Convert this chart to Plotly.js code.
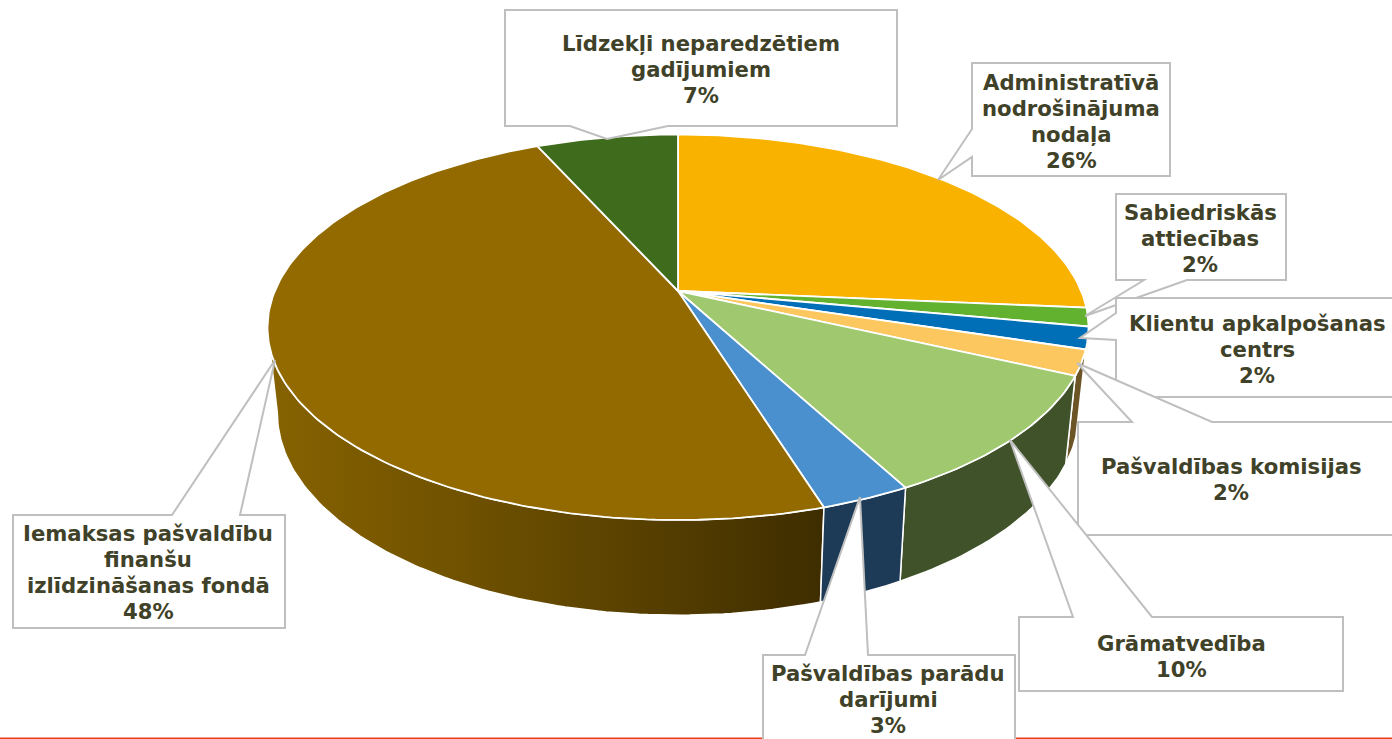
<!DOCTYPE html>
<html>
<head>
<meta charset="utf-8">
<script src="https://cdn.plot.ly/plotly-3.0.1.min.js"></script>
<style>html,body{margin:0;padding:0;background:#fff}#chart{width:1392px;height:739px}</style>
</head>
<body>
<div id="chart"></div>
<script>
// Data, clockwise from 12 o'clock
const categories = [
  ["Administratīvā", "nodrošinājuma", "nodaļa"],
  ["Sabiedriskās", "attiecības"],
  ["Klientu apkalpošanas", "centrs"],
  ["Pašvaldības komisijas"],
  ["Grāmatvedība"],
  ["Pašvaldības parādu", "darījumi"],
  ["Iemaksas pašvaldību", "finanšu", "izlīdzināšanas fondā"],
  ["Līdzekļi neparedzētiem", "gadījumiem"]
];
const values = [26.4, 1.55, 1.85, 2.1, 10.3, 3.0, 48.1, 6.7];

// Styles
const topColors  = ["#f9b200", "#63b22f", "#006fb8", "#fbc75e", "#9fc86f", "#4a90cf", "#926a00", "#3e6c1c"];
const wallColors = ["#7a5c00", "#31591a", "#00406c", "#6b5526", "#3f5229", "#1d3a57", "#6b4e00", "#24400f"];

// Projection of the disc (axis units equal pixels)
const cx = 678, apexY = 291, topY = 134.5, botY = 520, halfW = 410.5;
const persp = (2 * apexY - topY - botY) / (topY - botY);
const a = topY * (1 + persp) - apexY;
const d = halfW * Math.sqrt(1 - persp * persp);
const topCy = (topY + botY) / 2;
const wallScaleX = 0.976, wallCy = 413, wallScaleY = 1.049;

function project(theta, wall) {
  const u = Math.cos(theta), v = Math.sin(theta), w = 1 + persp * u;
  let X = cx + d * v / w, Y = (a * u + apexY) / w;
  if (wall) { X = cx + wallScaleX * (X - cx); Y = wallCy + wallScaleY * (Y - topCy); }
  return [X, Y];
}
function arc(t0, t1, wall) {
  const n = Math.max(2, Math.ceil(Math.abs(t1 - t0) * 180 / Math.PI));
  const pts = [];
  for (let i = 0; i <= n; i++) pts.push(project(t0 + (t1 - t0) * i / n, wall));
  return pts;
}

const total = values.reduce((s, v) => s + v, 0);
let acc = 0;
const slices = values.map((v, i) => {
  const t0 = acc / total * 2 * Math.PI; acc += v;
  return { i, t0, t1: acc / total * 2 * Math.PI };
});

const traces = [];
function poly(pts, color, width, extra) {
  traces.push(Object.assign({
    type: "scatter", mode: "lines", x: pts.map(p => p[0]), y: pts.map(p => p[1]),
    fill: "toself", fillcolor: color, line: { color: "#ffffff", width },
    hoverinfo: "skip", showlegend: false
  }, extra || {}));
}

// Walls: only the part between the two silhouette angles faces the viewer
const visFrom = Math.acos(-persp), visTo = 2 * Math.PI - visFrom;
slices.slice().sort((p, q) => Math.abs(Math.PI - (q.t0 + q.t1) / 2) - Math.abs(Math.PI - (p.t0 + p.t1) / 2))
  .forEach(s => {
    const t0 = Math.max(s.t0, visFrom), t1 = Math.min(s.t1, visTo);
    if (t1 <= t0) return;
    const pts = arc(t0, t1, false).concat(arc(t1, t0, true));
    pts.push(pts[0]);
    const biggest = values[s.i] === Math.max(...values);
    poly(pts, wallColors[s.i], 1.5, biggest ? {
      fillgradient: { type: "horizontal", start: 270, stop: 825,
        colorscale: [[0, "#866200"], [0.35, "#6f5100"], [0.7, "#553e00"], [1, "#3e2d00"]] }
    } : null);
  });

// Top faces
const apex = [cx, apexY];
slices.forEach(s => {
  poly([apex].concat(arc(s.t0, s.t1, false), [apex]), topColors[s.i], 1.8);
});

// Callouts: box, wedge side, wedge base, wedge tip, text centre
const callouts = [
  { box: [972, 63, 1170, 176],   side: "left",   base: [129, 157], tip: [938, 180],   text: [1071, 121] },
  { box: [1116, 194, 1286, 280], side: "bottom", base: [1144, 1187], tip: [1085, 316], text: [1200, 238] },
  { box: [1116, 298, 1396, 397], side: "left",   base: [313, 340], tip: [1080, 338],  text: [1257, 349] },
  { box: [1078, 422, 1396, 535], side: "top",    base: [1132, 1212], tip: [1077, 363], text: [1231, 479] },
  { box: [1019, 617, 1343, 691], side: "top",    base: [1073, 1152], tip: [1010, 440], text: [1181, 656] },
  { box: [763, 655, 1015, 745],  side: "top",    base: [805, 868], tip: [860, 497],   text: [888, 699] },
  { box: [13, 515, 285, 628],    side: "top",    base: [172, 240], tip: [275, 360],   text: [148, 572] },
  { box: [505, 10, 897, 126],    side: "bottom", base: [570, 668], tip: [607, 139],   text: [701, 69] }
];
function calloutPath(o) {
  const [l, t, r, b] = o.box, [p, q] = o.base, [tx, ty] = o.tip;
  const pts = [];
  pts.push([l, t]);
  if (o.side === "top") pts.push([p, t], [tx, ty], [q, t]);
  pts.push([r, t], [r, b]);
  if (o.side === "bottom") pts.push([q, b], [tx, ty], [p, b]);
  pts.push([l, b]);
  if (o.side === "left") pts.push([l, q], [tx, ty], [l, p]);
  return "M" + pts.map(z => z.join(",")).join("L") + "Z";
}

const shapes = [{
  type: "line", xref: "x", yref: "y", x0: 0, x1: 1392, y0: 738.2, y1: 738.2,
  line: { color: "#e8401a", width: 1.5 }, layer: "below"
}].concat(callouts.map(o => ({
  type: "path", xref: "x", yref: "y", path: calloutPath(o), layer: "above",
  fillcolor: "#ffffff", line: { color: "#bfbfbf", width: 2 }
})));

const linePitch = 26;
const annotations = [];
callouts.forEach((o, i) => {
  const lines = categories[i].concat(Math.round(values[i] / total * 100) + "%");
  lines.forEach((line, j) => annotations.push({
    xref: "x", yref: "y", x: o.text[0], y: o.text[1] + (j - (lines.length - 1) / 2) * linePitch,
    xanchor: "center", yanchor: "middle", showarrow: false, align: "center", text: line,
    font: { family: "'DejaVu Sans', Verdana, sans-serif", size: 21.2, color: "#3f4228", weight: 700 }
  }));
});

Plotly.newPlot("chart", traces, {
  width: 1392, height: 739, margin: { l: 0, r: 0, t: 0, b: 0 },
  paper_bgcolor: "#ffffff", plot_bgcolor: "#ffffff", showlegend: false,
  xaxis: { range: [0, 1392], visible: false, fixedrange: true },
  yaxis: { range: [739, 0], visible: false, fixedrange: true },
  shapes, annotations
}, { displayModeBar: false, staticPlot: true });
</script>
</body>
</html>
